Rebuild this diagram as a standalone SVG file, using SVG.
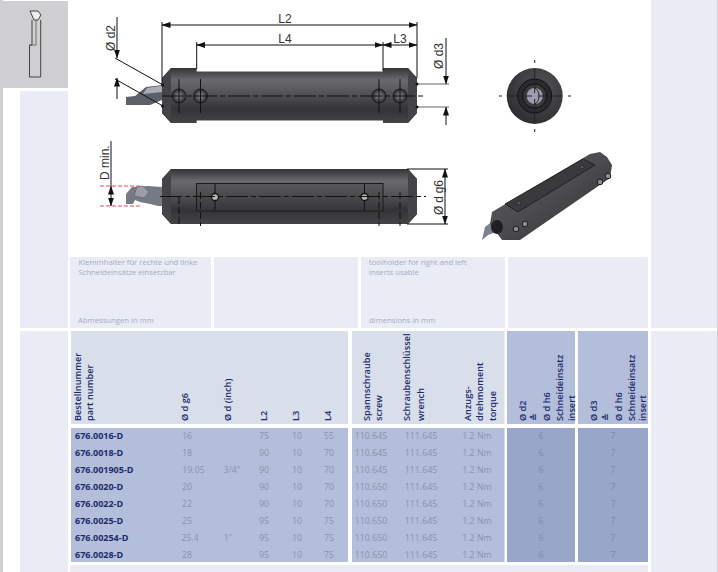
<svg xmlns="http://www.w3.org/2000/svg" width="718" height="572" viewBox="0 0 718 572">
<style>
text{font-family:"Open Sans","Noto Sans","DejaVu Sans",sans-serif}
.n{font-size:7.7px;fill:#a4abc2}
.v{font-size:8.8px;fill:#8a92ac;text-anchor:middle}
.w{font-size:8.8px;fill:#7f89a9;text-anchor:middle}
.p{font-size:9px;font-weight:700;fill:#1c2a6a}
.h{font-size:9.2px;font-weight:600;fill:#1c2a6a}
.d{font-family:"Liberation Sans",Arial,sans-serif;font-size:12px;fill:#333}
.dim{stroke:#111;stroke-width:1;fill:none}
.ctr{stroke:#111;stroke-width:1;fill:none;stroke-dasharray:22 3 5 3}
.red{stroke:#e04a55;stroke-width:1;stroke-dasharray:4 2;fill:none}
.lp{fill:#e9ecf5}
.hd{fill:#d8deea}
.hd2{fill:#b3bedb}
.dt{fill:#b3bedb}
.dt2{fill:#98a6c9}
</style>
<defs>
<marker id="a" markerWidth="9" markerHeight="6" refX="8.5" refY="3" orient="auto-start-reverse" markerUnits="userSpaceOnUse"><path d="M0 0L9 3L0 6Z" fill="#111"/></marker>
<linearGradient id="body" x1="0" y1="0" x2="0" y2="1"><stop offset="0" stop-color="#343436"/><stop offset=".22" stop-color="#6a6a6c"/><stop offset=".42" stop-color="#58585a"/><stop offset=".75" stop-color="#343436"/><stop offset="1" stop-color="#444446"/></linearGradient>
<linearGradient id="iso" x1="0" y1="0" x2="1" y2="1" gradientUnits="objectBoundingBox"><stop offset="0" stop-color="#5e5e60"/><stop offset=".5" stop-color="#4c4c4e"/><stop offset="1" stop-color="#2c2c2e"/></linearGradient>
<radialGradient id="hole"><stop offset="0" stop-color="#8a8f9a"/><stop offset=".55" stop-color="#565860"/><stop offset="1" stop-color="#2a2a2c"/></radialGradient>
<radialGradient id="face" cx=".6" cy=".35" r=".75"><stop offset="0" stop-color="#555557"/><stop offset="1" stop-color="#2a2a2c"/></radialGradient>
</defs>

<rect width="718" height="572" fill="#fff"/>
<g id="frame">
<rect x="0" y="0" width="3" height="572" fill="#d0d0d2"/>
<rect x="3" y="1" width="65" height="87" fill="#cfcfd1"/>
<rect x="20" y="91" width="48" height="237" class="lp"/>
<rect x="20" y="331" width="48" height="241" class="lp"/>
<rect x="651" y="0" width="67" height="328" class="lp"/>
<rect x="651" y="331" width="67" height="241" class="lp"/>
<rect x="717" y="0" width="1" height="572" fill="#cfcfd1"/>
<rect x="70" y="565" width="578" height="7" class="lp"/>
<path d="M32 20V45H29.500V77H40.700V20" fill="none" stroke="#333" stroke-width=".9"/>
<path d="M29.500 45H36V20" fill="none" stroke="#555" stroke-width=".8"/>
<path d="M30 11L38 11L41 15L38 20L34 20Z" fill="#ececec" stroke="#333" stroke-width=".9"/>
</g>

<g id="drawing-top">
<path d="M135 96L146 87L162 85L162 100L150 105L136 105L126 105L126 97Z" fill="#5c6068"/>
<path d="M147 88L162 85.500L162 92L143 94Z" fill="#a8acb6"/>
<path d="M162 78L171 68L196.700 68L196.700 71.500L383 71.500L383 68L408 68L417 78L417 113L408 123L383 123L383 120.500L196.700 120.500L196.700 123L171 123L162 113Z" fill="url(#body)"/>
<path d="M162 78L171 68L171 123L162 113Z" fill="#444446"/>
<path d="M408 68L417 78L417 113L408 123Z" fill="#444446"/>
<g stroke="#1a1a1a" stroke-width="1">
<circle cx="179" cy="96" r="7" fill="url(#hole)"/>
<circle cx="200.500" cy="96" r="7" fill="url(#hole)"/>
<circle cx="379" cy="96" r="7" fill="url(#hole)"/>
<circle cx="400" cy="96" r="7" fill="url(#hole)"/>
</g>
<path class="dim" d="M179 79V113M200.500 79V113M379 79V113M400 79V113"/>
<path class="ctr" d="M162 96H424"/>
</g>

<g id="drawing-side">
<path d="M126 194L132 187L148 186L162 187L162 206L158 206L150 204L140 202L135 200L133 204H126Z" fill="#767a84"/>
<path d="M134 196L137 187L143 186L149 192L144 198Z" fill="#9a9ea8" stroke="#555" stroke-width=".5"/>
<path d="M162 179L171 169L408 169L417 179L417 214L408 224L171 224L162 214Z" fill="url(#body)"/>
<path d="M162 179L171 169L171 224L162 214Z" fill="#444446"/>
<path d="M408 169L417 179L417 214L408 224Z" fill="#444446"/>
<rect x="196.500" y="183.500" width="186.500" height="27.500" fill="#3f3f41" fill-opacity=".35" stroke="#1a1a1a"/>
<path class="dim" d="M215 184V210M364.500 184V210"/>
<circle cx="215" cy="197" r="3.500" fill="#b8b8b8" stroke="#111" stroke-width="1.300"/>
<circle cx="364.500" cy="197" r="3.500" fill="#b8b8b8" stroke="#111" stroke-width="1.300"/>
<path class="ctr" d="M160 196.500H426"/>
<path d="M179 197V226M200.500 192V226M379 192V226M400 192V226" stroke="#111" stroke-width="1" stroke-dasharray="7 3" fill="none"/>
</g>

<g id="drawing-front">
<circle cx="534.700" cy="96" r="28" fill="url(#face)"/>
<circle cx="534.700" cy="96" r="17" fill="#2a2a2c" stroke="#111"/>
<circle cx="534.700" cy="96" r="12" fill="#3a3a3e" stroke="#111"/>
<circle cx="534.700" cy="96" r="8" fill="#9a9eae"/>
<path d="M535 88C540 91 541 100 535 104" stroke="#222" stroke-width="1" fill="none"/>
<path d="M499 96H571M534.700 60V132" stroke="#222" stroke-width="1" stroke-dasharray="3 6 24 6 24 6 3" fill="none"/>
</g>

<g id="drawing-iso">
<path d="M482 240L485 227L493 221L499 231L488 235Z" fill="#7c8090"/>
<path d="M492 212L590 154L600 152L607 157L612 165L610 178L520 240L502 240L490 224Z" fill="url(#iso)"/>
<path d="M505 204L583 159L595 165L518 212Z" fill="#3a3a3c" stroke="#1a1a1a" stroke-width=".8"/>
<ellipse cx="497" cy="227" rx="6" ry="7" fill="#202022"/>
<g fill="#8a8e98" stroke="#1a1a1a"><circle cx="516" cy="229" r="2.800"/><circle cx="525" cy="224" r="2.800"/><circle cx="600" cy="182" r="2.800"/><circle cx="608" cy="176" r="2.800"/></g>
<g fill="#55565a" stroke="#1a1a1a" stroke-width=".6"><circle cx="519" cy="203" r="2"/><circle cx="582" cy="167" r="2"/></g>
</g>

<g id="connectors">
<path class="dim" d="M162 22V85M417 22V78M196.700 42V69M383 42V71"/>
<path class="dim" marker-start="url(#a)" marker-end="url(#a)" d="M162 25H417"/>
<path class="dim" marker-start="url(#a)" marker-end="url(#a)" d="M196.700 45H383"/>
<path class="dim" marker-start="url(#a)" marker-end="url(#a)" d="M383 45H417"/>
<path class="dim" marker-end="url(#a)" d="M117 17V58"/>
<path class="dim" marker-end="url(#a)" d="M117 99V78"/>
<path class="dim" d="M115 58L163 85M115 79L163 106"/>
<circle cx="162.500" cy="85" r="1.500" fill="#111"/><circle cx="162.500" cy="106" r="1.500" fill="#111"/>
<path class="dim" marker-end="url(#a)" d="M446 38V84"/>
<path class="dim" marker-end="url(#a)" d="M446 125V107"/>
<path d="M417 84H449M417 107H449" stroke="#666" fill="none"/>
<circle cx="417" cy="84" r="1.500" fill="#111"/><circle cx="417" cy="107" r="1.500" fill="#111"/>
<path class="dim" d="M407 169H448M407 224H448"/>
<path class="dim" marker-start="url(#a)" marker-end="url(#a)" d="M445 169V224"/>
<path class="dim" d="M111 141V186"/>
<path class="dim" marker-start="url(#a)" marker-end="url(#a)" d="M111 186V206"/>
<path class="red" d="M100 186H142M100 206H142"/>
</g>

<g id="dim-labels">
<text class="d" x="285" y="23" text-anchor="middle">L2</text>
<text class="d" x="285" y="43" text-anchor="middle">L4</text>
<text class="d" x="400" y="43" text-anchor="middle">L3</text>
<text class="d" transform="translate(115 51) rotate(-90)">Ø d2</text>
<text class="d" transform="translate(443 69) rotate(-90)">Ø d3</text>
<text class="d" transform="translate(109 180) rotate(-90)">D min.</text>
<text class="d" transform="translate(443 215) rotate(-90)" textLength="35">Ø d g6</text>
</g>

<g id="info-panels">
<rect x="70" y="257" width="141" height="71" class="lp"/>
<rect x="214" y="257" width="144" height="71" class="lp"/>
<rect x="361" y="257" width="144" height="71" class="lp"/>
<rect x="508" y="257" width="140" height="71" class="lp"/>
<text class="n" x="78.500" y="265">Klemmhalter für rechte und linke</text>
<text class="n" x="78.500" y="275">Schneideinsätze einsetzbar</text>
<text class="n" x="78" y="323">Abmessungen in mm</text>
<text class="n" x="369" y="265">toolholder for right and left</text>
<text class="n" x="369" y="275">inserts usable</text>
<text class="n" x="369" y="323">dimensions in mm</text>
</g>

<g id="table-header">
<rect x="71" y="331" width="277" height="93" class="hd"/>
<rect x="352" y="331" width="152.500" height="93" class="hd"/>
<rect x="507" y="331" width="68" height="93" class="hd2"/>
<rect x="578" y="331" width="70" height="93" class="hd2"/>
<g class="h">
<text transform="translate(81 421) rotate(-90)">Bestellnummer</text>
<text transform="translate(93 421) rotate(-90)">part number</text>
<text transform="translate(188 421) rotate(-90)">Ø d g6</text>
<text transform="translate(231 421) rotate(-90)">Ø d (inch)</text>
<text transform="translate(267 421) rotate(-90)">L2</text>
<text transform="translate(299 421) rotate(-90)">L3</text>
<text transform="translate(331 421) rotate(-90)">L4</text>
<text transform="translate(370 421) rotate(-90)">Spannschraube</text>
<text transform="translate(382 421) rotate(-90)">screw</text>
<text transform="translate(410 421) rotate(-90)">Schraubenschlüssel</text>
<text transform="translate(424 421) rotate(-90)">wrench</text>
<text transform="translate(471 421) rotate(-90)">Anzugs-</text>
<text transform="translate(483 421) rotate(-90)">drehmoment</text>
<text transform="translate(496 421) rotate(-90)">torque</text>
<text transform="translate(526 421) rotate(-90)">Ø d2</text>
<text transform="translate(537 421) rotate(-90)">≙</text>
<text transform="translate(550 421) rotate(-90)">Ø d h6</text>
<text transform="translate(563 421) rotate(-90)">Schneideinsatz</text>
<text transform="translate(575 421) rotate(-90)">insert</text>
<text transform="translate(597 421) rotate(-90)">Ø d3</text>
<text transform="translate(609 421) rotate(-90)">≙</text>
<text transform="translate(622 421) rotate(-90)">Ø d h6</text>
<text transform="translate(635 421) rotate(-90)">Schneideinsatz</text>
<text transform="translate(646 421) rotate(-90)">insert</text>
</g>
</g>

<g id="table-body">
<rect x="71" y="428" width="277" height="134" class="dt"/>
<rect x="352" y="428" width="152.500" height="134" class="dt"/>
<rect x="507" y="428" width="68" height="134" class="dt2"/>
<rect x="578" y="428" width="70" height="134" class="dt2"/>
<g class="p">
<text x="75" y="438.500">676.0016-D</text>
<text x="75" y="455.500">676.0018-D</text>
<text x="75" y="472.500">676.001905-D</text>
<text x="75" y="489.500">676.0020-D</text>
<text x="75" y="506.500">676.0022-D</text>
<text x="75" y="523.500">676.0025-D</text>
<text x="75" y="540.500">676.00254-D</text>
<text x="75" y="557.500">676.0028-D</text>
</g>
<g class="v">
<text x="187" y="438.500">16</text><text x="187" y="455.500">18</text><text x="193.500" y="472.500">19.05</text><text x="187" y="489.500">20</text><text x="187" y="506.500">22</text><text x="187" y="523.500">25</text><text x="190" y="540.500">25.4</text><text x="187" y="557.500">28</text>
<text x="232" y="472.500">3/4"</text><text x="228" y="540.500">1"</text>
<text x="264" y="438.500">75</text><text x="264" y="455.500">90</text><text x="264" y="472.500">90</text><text x="264" y="489.500">90</text><text x="264" y="506.500">90</text><text x="264" y="523.500">95</text><text x="264" y="540.500">95</text><text x="264" y="557.500">95</text>
<text x="297" y="438.500">10</text><text x="297" y="455.500">10</text><text x="297" y="472.500">10</text><text x="297" y="489.500">10</text><text x="297" y="506.500">10</text><text x="297" y="523.500">10</text><text x="297" y="540.500">10</text><text x="297" y="557.500">10</text>
<text x="329" y="438.500">55</text><text x="329" y="455.500">70</text><text x="329" y="472.500">70</text><text x="329" y="489.500">70</text><text x="329" y="506.500">70</text><text x="329" y="523.500">75</text><text x="329" y="540.500">75</text><text x="329" y="557.500">75</text>
<text x="371" y="438.500">110.645</text><text x="371" y="455.500">110.645</text><text x="371" y="472.500">110.645</text><text x="371" y="489.500">110.650</text><text x="371" y="506.500">110.650</text><text x="371" y="523.500">110.650</text><text x="371" y="540.500">110.650</text><text x="371" y="557.500">110.650</text>
<text x="421" y="438.500">111.645</text><text x="421" y="455.500">111.645</text><text x="421" y="472.500">111.645</text><text x="421" y="489.500">111.645</text><text x="421" y="506.500">111.645</text><text x="421" y="523.500">111.645</text><text x="421" y="540.500">111.645</text><text x="421" y="557.500">111.645</text>
<text x="477" y="438.500">1.2 Nm</text><text x="477" y="455.500">1.2 Nm</text><text x="477" y="472.500">1.2 Nm</text><text x="477" y="489.500">1.2 Nm</text><text x="477" y="506.500">1.2 Nm</text><text x="477" y="523.500">1.2 Nm</text><text x="477" y="540.500">1.2 Nm</text><text x="477" y="557.500">1.2 Nm</text>
</g>
<g class="w">
<text x="541" y="438.500">6</text><text x="541" y="455.500">6</text><text x="541" y="472.500">6</text><text x="541" y="489.500">6</text><text x="541" y="506.500">6</text><text x="541" y="523.500">6</text><text x="541" y="540.500">6</text><text x="541" y="557.500">6</text>
<text x="613" y="438.500">7</text><text x="613" y="455.500">7</text><text x="613" y="472.500">7</text><text x="613" y="489.500">7</text><text x="613" y="506.500">7</text><text x="613" y="523.500">7</text><text x="613" y="540.500">7</text><text x="613" y="557.500">7</text>
</g>
</g>
</svg>
